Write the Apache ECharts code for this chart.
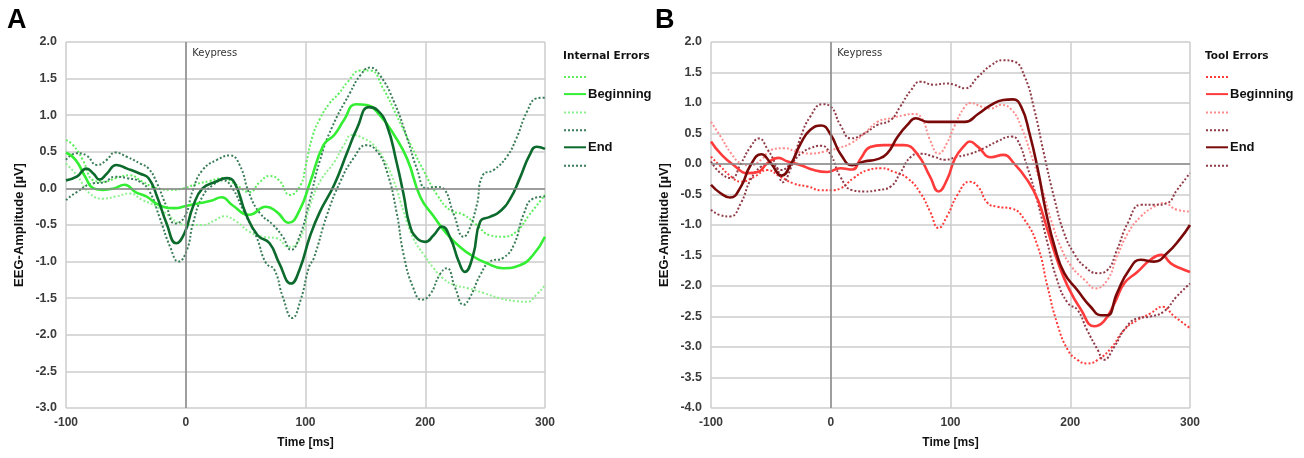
<!DOCTYPE html>
<html><head><meta charset="utf-8">
<script src="https://cdn.jsdelivr.net/npm/echarts@6/dist/echarts.min.js"></script>
<style>html,body{margin:0;padding:0;background:#fff}#c{width:1304px;height:458px}</style>
</head><body><div id="c"></div>
<script>
// ---------- Panel A: Internal Errors ----------
const A_beginning = [[-100,0.49],[-92,0.39],[-84,0.16],[-77,0.0],[-69,-0.02],[-60,0.0],[-51,0.05],[-42,-0.05],[-33,-0.11],[-22,-0.23],[-9,-0.27],[0,-0.24],[12,-0.2],[21,-0.17],[30,-0.12],[39,-0.23],[53,-0.36],[67,-0.25],[76,-0.32],[86,-0.47],[95,-0.3],[104,0.09],[115,0.59],[124,0.73],[132,0.93],[142,1.15],[151,1.14],[162,1.0],[174,0.73],[185,0.4],[196,-0.12],[207,-0.38],[218,-0.62],[229,-0.8],[240,-0.93],[251,-1.02],[265,-1.09],[279,-1.05],[290,-0.91],[300,-0.66]];
const A_end = [[-100,0.11],[-91,0.16],[-83,0.27],[-77,0.2],[-72,0.12],[-66,0.2],[-58,0.32],[-49,0.27],[-38,0.2],[-31,0.14],[-24,-0.11],[-16,-0.48],[-8,-0.75],[-1,-0.61],[6,-0.25],[14,0.0],[25,0.09],[34,0.14],[41,0.07],[50,-0.34],[60,-0.64],[70,-0.75],[78,-1.02],[88,-1.3],[95,-1.11],[104,-0.64],[112,-0.32],[124,0.05],[135,0.5],[143,0.82],[153,1.11],[160,1.07],[168,0.86],[176,0.36],[182,-0.09],[187,-0.5],[193,-0.68],[200,-0.73],[207,-0.64],[214,-0.52],[221,-0.68],[228,-1.0],[233,-1.14],[240,-0.91],[246,-0.45],[254,-0.39],[262,-0.32],[271,-0.14],[279,0.14],[287,0.45],[293,0.57],[300,0.54]];
const A_beginningUpper = [[-100,0.66],[-94,0.59],[-86,0.39],[-77,0.11],[-69,0.09],[-58,0.14],[-47,0.18],[-36,0.09],[-24,0.0],[-13,-0.02],[-2,0.0],[9,0.06],[20,0.1],[31,0.14],[42,0.05],[53,-0.05],[62,0.09],[70,0.17],[78,0.11],[87,-0.09],[96,0.05],[100,0.3],[106,0.72],[112,0.95],[120,1.16],[128,1.3],[135,1.45],[146,1.61],[154,1.61],[165,1.36],[176,1.0],[188,0.59],[199,0.23],[210,-0.09],[221,-0.3],[232,-0.36],[243,-0.5],[254,-0.64],[265,-0.66],[276,-0.59],[287,-0.36],[300,-0.09]];
const A_beginningLower = [[-100,0.34],[-91,0.18],[-80,-0.07],[-69,-0.14],[-58,-0.11],[-47,-0.07],[-36,-0.16],[-24,-0.25],[-13,-0.39],[-5,-0.48],[3,-0.5],[14,-0.5],[25,-0.43],[32,-0.38],[42,-0.45],[53,-0.59],[64,-0.66],[76,-0.68],[86,-0.8],[95,-0.7],[104,-0.23],[112,0.09],[124,0.36],[132,0.59],[139,0.73],[149,0.68],[157,0.59],[165,0.41],[174,0.09],[182,-0.32],[190,-0.68],[199,-0.91],[207,-1.09],[215,-1.23],[224,-1.32],[235,-1.36],[249,-1.43],[262,-1.5],[276,-1.54],[285,-1.55],[293,-1.45],[300,-1.32]];
const A_endUpper = [[-100,0.39],[-91,0.48],[-83,0.45],[-74,0.32],[-66,0.39],[-59,0.49],[-49,0.43],[-38,0.34],[-31,0.27],[-24,0.07],[-16,-0.25],[-9,-0.48],[-1,-0.39],[6,-0.02],[14,0.25],[26,0.39],[37,0.45],[45,0.32],[53,-0.07],[62,-0.34],[73,-0.5],[81,-0.66],[88,-0.84],[95,-0.66],[103,-0.2],[112,0.38],[122,0.83],[137,1.3],[146,1.55],[154,1.65],[162,1.55],[174,1.18],[185,0.68],[193,0.27],[201,0.0],[210,0.02],[215,0.0],[224,-0.36],[232,-0.66],[236,-0.59],[243,-0.23],[248,0.18],[257,0.25],[268,0.43],[276,0.68],[285,1.05],[293,1.23],[300,1.24]];
const A_endLower = [[-100,-0.16],[-91,-0.05],[-77,0.07],[-69,0.08],[-59,0.16],[-49,0.14],[-38,0.09],[-30,-0.05],[-22,-0.39],[-13,-0.8],[-6,-1.0],[1,-0.84],[6,-0.48],[14,-0.11],[23,0.05],[31,0.11],[39,0.0],[48,-0.3],[59,-0.66],[67,-1.02],[74,-1.11],[81,-1.48],[89,-1.77],[96,-1.52],[103,-1.07],[107,-0.95],[118,-0.36],[129,0.09],[140,0.41],[151,0.59],[160,0.5],[168,0.23],[176,-0.32],[182,-0.91],[190,-1.36],[197,-1.52],[204,-1.45],[212,-1.18],[218,-1.09],[225,-1.36],[232,-1.59],[237,-1.5],[246,-1.18],[254,-1.0],[265,-0.95],[274,-0.77],[282,-0.36],[290,-0.14],[300,-0.11]];

// ---------- Panel B: Tool Errors ----------
const B_beginning = [[-100,0.37],[-92,0.17],[-81,-0.02],[-69,-0.15],[-61,-0.13],[-53,0.01],[-44,0.1],[-36,0.04],[-25,-0.02],[-14,-0.1],[-3,-0.13],[8,-0.07],[18,-0.09],[25,0.09],[33,0.28],[44,0.31],[61,0.31],[72,0.17],[83,-0.21],[90,-0.45],[97,-0.26],[104,0.1],[112,0.31],[116,0.37],[123,0.28],[134,0.11],[144,0.15],[153,0.01],[164,-0.26],[173,-0.59],[181,-1.08],[189,-1.57],[198,-2.01],[209,-2.39],[220,-2.66],[228,-2.58],[237,-2.28],[245,-1.96],[256,-1.77],[267,-1.57],[276,-1.49],[284,-1.63],[292,-1.71],[300,-1.77]];
const B_end = [[-100,-0.34],[-92,-0.48],[-84,-0.55],[-75,-0.37],[-67,-0.02],[-58,0.16],[-50,0.01],[-41,-0.19],[-33,0.01],[-25,0.34],[-17,0.56],[-8,0.63],[0,0.48],[8,0.17],[18,-0.02],[28,0.04],[39,0.08],[47,0.17],[56,0.45],[64,0.64],[71,0.75],[81,0.69],[94,0.69],[112,0.69],[123,0.82],[134,0.97],[144,1.05],[152,1.06],[159,0.94],[166,0.5],[173,-0.1],[180,-0.81],[187,-1.36],[195,-1.79],[206,-2.07],[217,-2.34],[226,-2.48],[231,-2.48],[239,-2.12],[249,-1.74],[259,-1.57],[270,-1.6],[281,-1.46],[292,-1.22],[300,-1.0]];
const B_beginningLower = [[-100,0.12],[-92,-0.04],[-83,-0.21],[-75,-0.29],[-64,-0.21],[-53,-0.1],[-42,-0.21],[-31,-0.32],[-19,-0.37],[-8,-0.43],[0,-0.43],[8,-0.4],[19,-0.23],[31,-0.1],[42,-0.07],[53,-0.13],[64,-0.23],[75,-0.48],[83,-0.78],[90,-1.05],[97,-0.86],[106,-0.5],[116,-0.29],[123,-0.37],[131,-0.64],[139,-0.7],[151,-0.73],[162,-0.92],[173,-1.36],[181,-2.01],[189,-2.61],[198,-3.05],[206,-3.21],[214,-3.27],[223,-3.21],[234,-3.02],[245,-2.72],[256,-2.56],[267,-2.45],[277,-2.34],[287,-2.5],[300,-2.69]];
const B_beginningUpper = [[-100,0.69],[-92,0.45],[-83,0.17],[-75,0.01],[-67,-0.02],[-58,0.07],[-50,0.23],[-39,0.26],[-28,0.2],[-17,0.17],[-6,0.2],[6,0.26],[17,0.34],[28,0.5],[39,0.69],[50,0.75],[61,0.8],[69,0.82],[76,0.75],[83,0.39],[90,0.17],[97,0.34],[103,0.61],[112,0.94],[117,1.0],[126,0.94],[134,0.91],[142,0.97],[151,0.89],[159,0.61],[167,0.17],[176,-0.37],[184,-0.92],[192,-1.36],[201,-1.68],[212,-1.9],[221,-2.04],[231,-1.9],[239,-1.52],[248,-1.14],[259,-0.86],[270,-0.7],[278,-0.64],[289,-0.75],[300,-0.78]];
const B_endUpper = [[-100,0.04],[-92,-0.15],[-83,-0.23],[-75,0.01],[-67,0.28],[-60,0.42],[-53,0.25],[-45,-0.05],[-40,-0.3],[-34,-0.1],[-25,0.45],[-17,0.78],[-7,0.98],[0,0.94],[8,0.64],[17,0.42],[28,0.5],[39,0.64],[50,0.72],[58,0.94],[67,1.21],[75,1.35],[86,1.3],[97,1.32],[103,1.3],[112,1.24],[123,1.43],[134,1.62],[144,1.7],[153,1.68],[162,1.43],[170,0.89],[178,0.17],[187,-0.59],[195,-1.14],[203,-1.46],[212,-1.68],[223,-1.79],[231,-1.74],[239,-1.41],[248,-0.97],[259,-0.67],[270,-0.67],[281,-0.64],[289,-0.43],[300,-0.15]];
const B_endLower = [[-100,-0.75],[-92,-0.84],[-84,-0.86],[-75,-0.64],[-67,-0.26],[-58,-0.04],[-50,0.01],[-42,-0.1],[-33,0.01],[-25,0.17],[-17,0.26],[-8,0.3],[0,0.15],[8,-0.21],[18,-0.43],[28,-0.45],[39,-0.43],[50,-0.37],[58,-0.15],[67,0.12],[75,0.17],[86,0.12],[95,0.07],[106,0.12],[117,0.17],[128,0.26],[139,0.37],[151,0.45],[156,0.39],[164,-0.04],[173,-0.64],[181,-1.3],[189,-1.9],[198,-2.28],[206,-2.39],[214,-2.72],[223,-3.05],[228,-3.21],[237,-2.99],[245,-2.72],[256,-2.53],[267,-2.5],[278,-2.42],[289,-2.17],[300,-1.96]];

// ---------- axes / labels ----------
const xTicks = { min: -100, max: 300, interval: 100 };
const yTicksA = { min: -3, max: 2, interval: 0.5 };
const yTicksB = { min: -4, max: 2, interval: 0.5 };
const xTitle = 'Time [ms]';
const yTitle = 'EEG-Amplitude [µV]';
const eventLabel = 'Keypress';
const legendTitleA = 'Internal Errors';
const legendTitleB = 'Tool Errors';
const legendLabels = { 'A_hi': '', 'A_beg': 'Beginning', 'A_lo': '', 'A_ehi': '', 'A_end': 'End', 'A_elo': '',
                       'B_lo': '', 'B_beg': 'Beginning', 'B_hi': '', 'B_ehi': '', 'B_end': 'End', 'B_elo': '' };

const AXF = 'Liberation Sans, Arial, sans-serif';
const VF = 'DejaVu Sans, Verdana, sans-serif';

function xAxis(gi) {
  return { type: 'value', gridIndex: gi, min: xTicks.min, max: xTicks.max, interval: xTicks.interval,
    name: xTitle, nameLocation: 'middle', nameGap: 29,
    nameTextStyle: { fontFamily: AXF, fontWeight: 'bold', fontSize: 12, color: '#111' },
    axisLine: { show: false }, axisTick: { show: false },
    axisLabel: { margin: 9, fontFamily: AXF, fontWeight: 'bold', fontSize: 12, color: '#3a3a3a' },
    splitLine: { show: true, lineStyle: { color: '#cdcdcd', width: 1.5 } } };
}
function yAxis(gi, t) {
  return { type: 'value', gridIndex: gi, min: t.min, max: t.max, interval: t.interval,
    name: yTitle, nameLocation: 'middle', nameGap: 40,
    nameTextStyle: { fontFamily: AXF, fontWeight: 'bold', fontSize: 13, color: '#111' },
    axisLine: { show: false }, axisTick: { show: false },
    axisLabel: { margin: 9, fontFamily: AXF, fontWeight: 'bold', fontSize: 12.5, color: '#3a3a3a', formatter: v => v.toFixed(1) },
    splitLine: { show: true, lineStyle: { color: '#cdcdcd', width: 1.5 } } };
}
function line(name, gi, data, color, solid) {
  return { name, type: 'line', xAxisIndex: gi, yAxisIndex: gi, data, smooth: 0.5, showSymbol: false, symbol: 'none',
    z: solid ? 4 : 3,
    lineStyle: solid ? { color, width: 2.6, type: 'solid' } : { color, width: 2, type: 'dotted' },
    itemStyle: { color } };
}
function zeroSeries(gi) {
  return { name: 'zero' + gi, type: 'line', xAxisIndex: gi, yAxisIndex: gi, data: [[0, 0]], symbol: 'none', showSymbol: false,
    lineStyle: { opacity: 0 }, z: 1, silent: true,
    markLine: { silent: true, symbol: ['none', 'none'], label: { show: false },
      lineStyle: { color: '#8a8a8a', width: 1.5, type: 'solid' },
      data: [{ xAxis: 0 }, { yAxis: 0 }] },
    markPoint: { silent: true, data: [{ coord: [0, gi === 0 ? yTicksA.max : yTicksB.max], symbol: 'rect', symbolSize: 1,
      itemStyle: { color: 'rgba(0,0,0,0)' },
      label: { show: true, position: 'right', distance: 6, offset: [0, 11], formatter: eventLabel,
        fontFamily: VF, fontSize: 10, color: '#333' } }] } };
}

const cA = { hi: '#5fee5f', beg: '#33ee33', lo: '#8ff08f', eci: '#3a7d58', end: '#0b6a2c' };
const cB = { lo: '#ff3a3a', beg: '#ff3b3b', hi: '#ff8c8c', eci: '#903c48', end: '#7a0a0a' };

function legend(left, names) {
  return { orient: 'vertical', left, top: 70, itemWidth: 22, itemHeight: 14, itemGap: 5, data: names,
    formatter: n => legendLabels[n], selectedMode: false, padding: 0,
    itemStyle: { opacity: 0, borderWidth: 0 },
    textStyle: { fontFamily: AXF, fontWeight: 'bold', fontSize: 13, color: '#111', padding: [0, 0, 0, -3] } };
}

const option = {
  animation: false,
  backgroundColor: '#fff',
  title: [
    { text: 'A', left: 7, top: 7, padding: 0, textStyle: { fontFamily: AXF, fontWeight: 'bold', fontSize: 27, color: '#000' } },
    { text: 'B', left: 655, top: 7, padding: 0, textStyle: { fontFamily: AXF, fontWeight: 'bold', fontSize: 27, color: '#000' } },
    { text: legendTitleA, left: 563, top: 51, padding: 0, textStyle: { fontFamily: VF, fontWeight: 'bold', fontSize: 10.5, color: '#111' } },
    { text: legendTitleB, left: 1205, top: 51, padding: 0, textStyle: { fontFamily: VF, fontWeight: 'bold', fontSize: 10.5, color: '#111' } }
  ],
  legend: [
    legend(563, ['A_hi', 'A_beg', 'A_lo', 'A_ehi', 'A_end', 'A_elo']),
    legend(1205, ['B_lo', 'B_beg', 'B_hi', 'B_ehi', 'B_end', 'B_elo'])
  ],
  grid: [
    { left: 66, top: 42, width: 479, height: 366 },
    { left: 711, top: 42, width: 479, height: 366 }
  ],
  xAxis: [xAxis(0), xAxis(1)],
  yAxis: [yAxis(0, yTicksA), yAxis(1, yTicksB)],
  series: [
    zeroSeries(0), zeroSeries(1),
    line('A_hi', 0, A_beginningUpper, cA.hi, false),
    line('A_lo', 0, A_beginningLower, cA.lo, false),
    line('A_ehi', 0, A_endUpper, cA.eci, false),
    line('A_elo', 0, A_endLower, cA.eci, false),
    line('A_beg', 0, A_beginning, cA.beg, true),
    line('A_end', 0, A_end, cA.end, true),
    line('B_lo', 1, B_beginningLower, cB.lo, false),
    line('B_hi', 1, B_beginningUpper, cB.hi, false),
    line('B_ehi', 1, B_endUpper, cB.eci, false),
    line('B_elo', 1, B_endLower, cB.eci, false),
    line('B_beg', 1, B_beginning, cB.beg, true),
    line('B_end', 1, B_end, cB.end, true)
  ]
};
const chart = echarts.init(document.getElementById('c'), null, { renderer: 'canvas' });
chart.setOption(option);
</script></body></html>
